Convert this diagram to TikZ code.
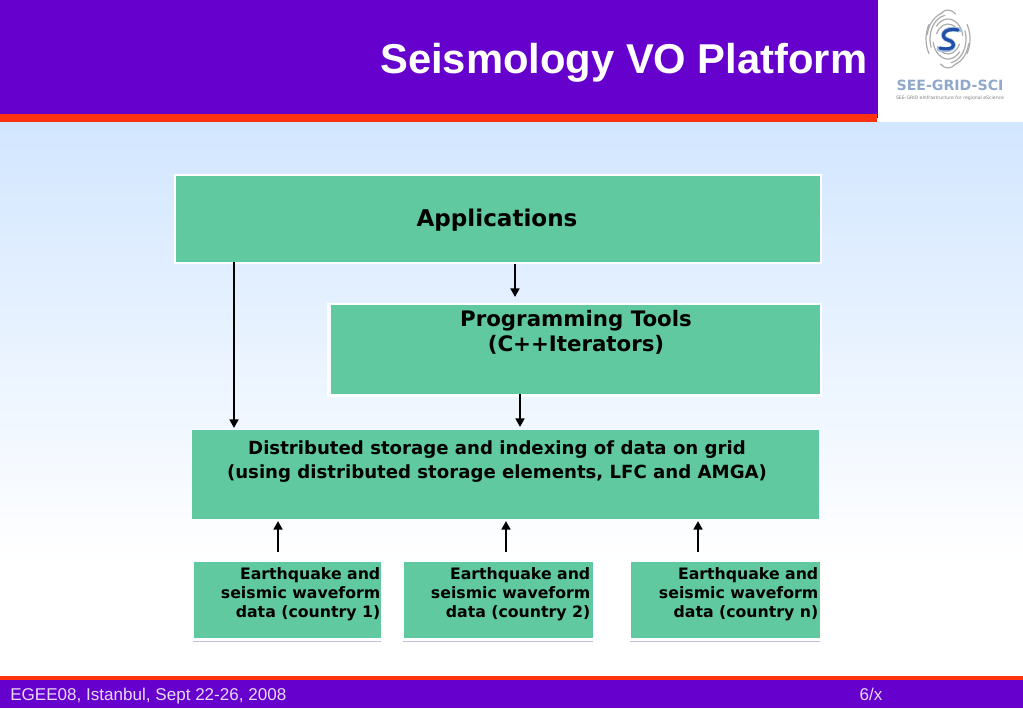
\documentclass[tikz,border=0pt]{standalone}
\usepackage{fontspec}
\usetikzlibrary{arrows.meta}
\setmainfont{DejaVu Sans}
\newfontfamily\arialfont{Liberation Sans}
\definecolor{barpurple}{HTML}{6600CC}
\definecolor{stripe}{HTML}{FF3311}
\definecolor{boxgreen}{HTML}{60C9A0}
\definecolor{skytop}{HTML}{D2E6FF}
\definecolor{logoblue}{HTML}{8FA8CC}
\definecolor{logodark}{HTML}{1F4FA8}
\definecolor{logolight}{HTML}{A9BFDD}
\definecolor{logogrey}{HTML}{ABABAB}
\definecolor{underline}{HTML}{C4BCE0}
\tikzset{
 x=0.75pt,y=-0.75pt,
 greenbox/.style={fill=boxgreen,draw=white,line width=1.5pt,inner sep=0pt,anchor=north west},
 plainbox/.style={fill=boxgreen,inner sep=0pt,anchor=north west},
 flow/.style={draw=black,line width=2pt,-{Triangle[length=6.4pt,width=6.6pt]}},
 boxtext/.style={align=center,inner sep=0pt},
 smalltext/.style={font=\bfseries\fontsize{11.8}{14.25}\selectfont,align=right,inner sep=0pt,anchor=north east},
 swirl/.style={draw=logogrey,line width=0.9pt,line cap=round},
 foottext/.style={font=\arialfont\fontsize{12.8}{14}\selectfont,text=white!85!barpurple,inner sep=0pt},
}
\begin{document}
\begin{tikzpicture}
\useasboundingbox (0,0) rectangle (1023,708);
% background
\fill[white] (0,0) rectangle (1023,708);
\shade[top color=skytop,bottom color=white,shading angle=0] (0,122) rectangle (1023,560);
% header
\fill[barpurple] (0,0) rectangle (877,114);
\fill[stripe] (0,114) rectangle (877,122);
\fill[white] (878,0) rectangle (1023,122);
\fill[barpurple] (877,0) rectangle (878,118);
\node[font=\arialfont\bfseries\fontsize{31.3}{38}\selectfont,text=white,anchor=east,inner sep=0pt] (title) at (867.5,63) {Seismology VO Platform};
% logo
\foreach \rx/\ry/\a/\b in {12/15/20/150,12/15/200/330,15/20/40/170,15/20/220/350,18/24/-20/80,18/24/160/260,21/27/10/70,21/27/190/250,22/29/-30/30,22/29/150/210,15/29/60/120,15/29/240/300}{
  \draw[swirl] ({948+\rx*cos(\a)},{39+\ry*sin(\a)}) arc[start angle=\a,end angle=\b,x radius=\rx,y radius=\ry];
}
\draw[logolight,line width=3.6pt,line cap=round] (959,30) .. controls (942,26) and (940,38) .. (948,40) .. controls (957,42) and (955,53) .. (939,49);
\draw[logodark,line width=2.4pt,line cap=round] (958,30) .. controls (942,27) and (940,38) .. (948,40) .. controls (957,42) and (955,52) .. (940,48);
\node[font=\bfseries\fontsize{10.6}{12}\selectfont,text=logoblue,inner sep=0pt] (logotext) at (950,85) {SEE-GRID-SCI};
\node[font=\fontsize{3.45}{4}\selectfont,text=gray,inner sep=0pt] (logosub) at (950,98) {SEE-GRID eInfrastructure for regional eScience};
% boxes
\node[greenbox,minimum width=0.75pt*646,minimum height=0.75pt*88] (app) at (174,174) {};
\node[boxtext,font=\bfseries\fontsize{17.3}{20}\selectfont] (applabel) at (497,220) {Applications};
\fill[white] (327,303) rectangle (822,397);
\fill[skytop!25!white] (329,305) rectangle (331,395);
\node[plainbox,minimum width=0.75pt*489,minimum height=0.75pt*89] (tools) at (331,305) {};
\node[boxtext,font=\bfseries\fontsize{16}{18.75}\selectfont] (toolslabel) at (576,332) {Programming Tools\\(C++Iterators)};
\node[plainbox,minimum width=0.75pt*627,minimum height=0.75pt*89] (store) at (192,430) {};
\node[boxtext,font=\bfseries\fontsize{13.6}{18}\selectfont] (storelabel) at (497,462) {Distributed storage and indexing of data on grid\\(using distributed storage elements, LFC and AMGA)};
\foreach \n/\x/\w/\r/\lab in {one/194/187/380.5/1,two/404/189/590.5/2,three/631/189/818.5/n}{
  \node[plainbox,minimum width=0.75pt*\w,minimum height=0.75pt*76] (\n) at (\x,562) {};
  \node[smalltext] (\n label) at (\r,567) {Earthquake and\\seismic waveform\\data (country \lab)};
  \draw[draw=underline,line width=0.7pt] (\x-1,641) -- ++(\w+1,0);
}
% connectors
\coordinate (a1) at (234,262); \coordinate (a2) at (234,428);
\coordinate (b1) at (515,264); \coordinate (b2) at (515,297);
\coordinate (c1) at (520,394); \coordinate (c2) at (520,427);
\coordinate (d1) at (278,552); \coordinate (d2) at (278,521);
\coordinate (e1) at (506,552); \coordinate (e2) at (506,521);
\coordinate (f1) at (698,552); \coordinate (f2) at (698,521);
\draw[flow] (a1) -- (a2);
\draw[flow] (b1) -- (b2);
\draw[flow] (c1) -- (c2);
\draw[flow] (d1) -- (d2);
\draw[flow] (e1) -- (e2);
\draw[flow] (f1) -- (f2);
% footer
\fill[stripe] (0,676) rectangle (1023,680);
\fill[barpurple] (0,680) rectangle (1023,708);
\node[foottext,anchor=base west] (foot) at (10,700.5) {EGEE08, Istanbul, Sept 22-26, 2008};
\node[foottext,anchor=base] (page) at (871,700.5) {6/x};
\end{tikzpicture}
\end{document}
